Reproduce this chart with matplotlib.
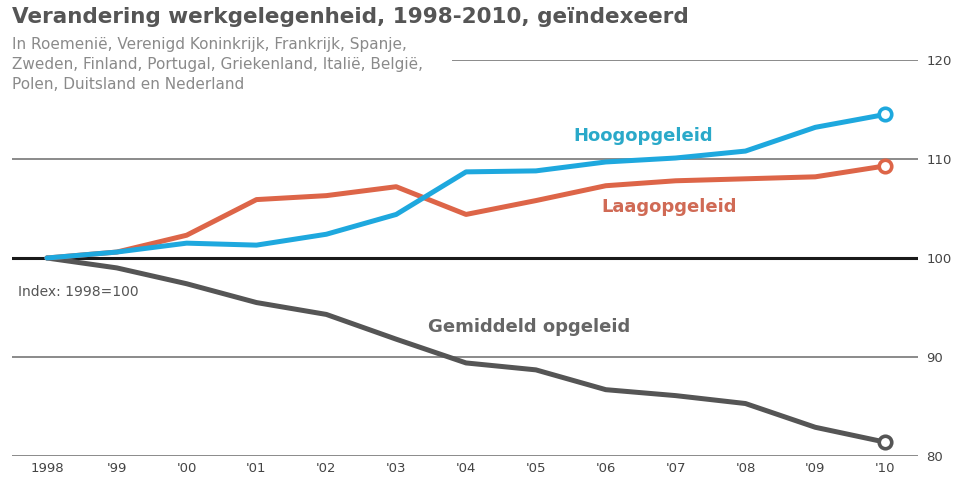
import matplotlib
matplotlib.use("Agg")
import matplotlib.pyplot as plt

years = list(range(1998, 2011))
tick_labels = ["1998", "'99", "'00", "'01", "'02", "'03", "'04", "'05",
               "'06", "'07", "'08", "'09", "'10"]

hoog = [100, 100.6, 101.5, 101.3, 102.4, 104.4, 108.7, 108.8, 109.7,
        110.1, 110.8, 113.2, 114.5]
laag = [100, 100.6, 102.3, 105.9, 106.3, 107.2, 104.4, 105.8, 107.3,
        107.8, 108.0, 108.2, 109.3]
gemiddeld = [100, 99.0, 97.4, 95.5, 94.3, 91.8, 89.4, 88.7, 86.7,
             86.1, 85.3, 82.9, 81.4]

y_ticks = [80, 90, 100, 110, 120]

W, H = 955, 478
fig = plt.figure(figsize=(W / 100, H / 100), dpi=100)
fig.patch.set_facecolor("white")

# axes placed in pixel terms: gridlines run from x=12 to x=918, 120 at y=60, 80 at y=456
ax = fig.add_axes([12 / W, 1 - 456 / H, (918 - 12) / W, (456 - 60) / H])
ax.set_xlim(1997.5, 2010.47)
ax.set_ylim(80, 120)
for s in ax.spines.values():
    s.set_visible(False)

# gridlines
for v in y_ticks:
    if v == 100:
        ax.axhline(v, color="#1a1a1a", lw=2.2, zorder=1)
    elif v == 120:
        ax.axhline(v, xmin=0.487, color="#8a8a8a", lw=1.4, zorder=1)
    else:
        ax.axhline(v, color="#8a8a8a", lw=1.4, zorder=1)

series = [
    (gemiddeld, "#555555"),
    (laag, "#dd6548"),
    (hoog, "#1ea8de"),
]
for vals, col in series:
    ax.plot(years, vals, color=col, lw=3.6, solid_capstyle="round",
            solid_joinstyle="round", zorder=3)
    ax.plot(years[-1], vals[-1], "o", ms=9, mfc="white", mec=col, mew=2.6,
            zorder=4, clip_on=False)

ax.set_xticks(years)
ax.set_xticklabels(tick_labels)
ax.tick_params(axis="x", length=0, pad=4, labelsize=9.5, labelcolor="#444444")
ax.yaxis.tick_right()
ax.set_yticks(y_ticks)
ax.tick_params(axis="y", length=0, pad=6, labelsize=9.5, labelcolor="#444444")

# series labels
ax.text(2006.54, 112.3, "Hoogopgeleid", color="#2aa9c9", fontsize=13,
        fontweight="bold", ha="center", va="center")
ax.text(2006.91, 105.2, "Laagopgeleid", color="#d06a55", fontsize=13,
        fontweight="bold", ha="center", va="center")
ax.text(2004.9, 93.0, "Gemiddeld opgeleid", color="#666666", fontsize=13,
        fontweight="bold", ha="center", va="center")
ax.text(1997.58, 96.6, "Index: 1998=100", color="#555555", fontsize=10,
        ha="left", va="center")

# title and subtitle
fig.text(12 / W, 1 - 7 / H, "Verandering werkgelegenheid, 1998-2010, geïndexeerd",
         fontsize=15.5, fontweight="bold", color="#555555", ha="left", va="top")
fig.text(12 / W, 1 - 37 / H,
         "In Roemenië, Verenigd Koninkrijk, Frankrijk, Spanje,\n"
         "Zweden, Finland, Portugal, Griekenland, Italië, België,\n"
         "Polen, Duitsland en Nederland",
         fontsize=11, color="#8a8a8a", ha="left", va="top", linespacing=1.42)

fig.savefig("out.png", dpi=100)
